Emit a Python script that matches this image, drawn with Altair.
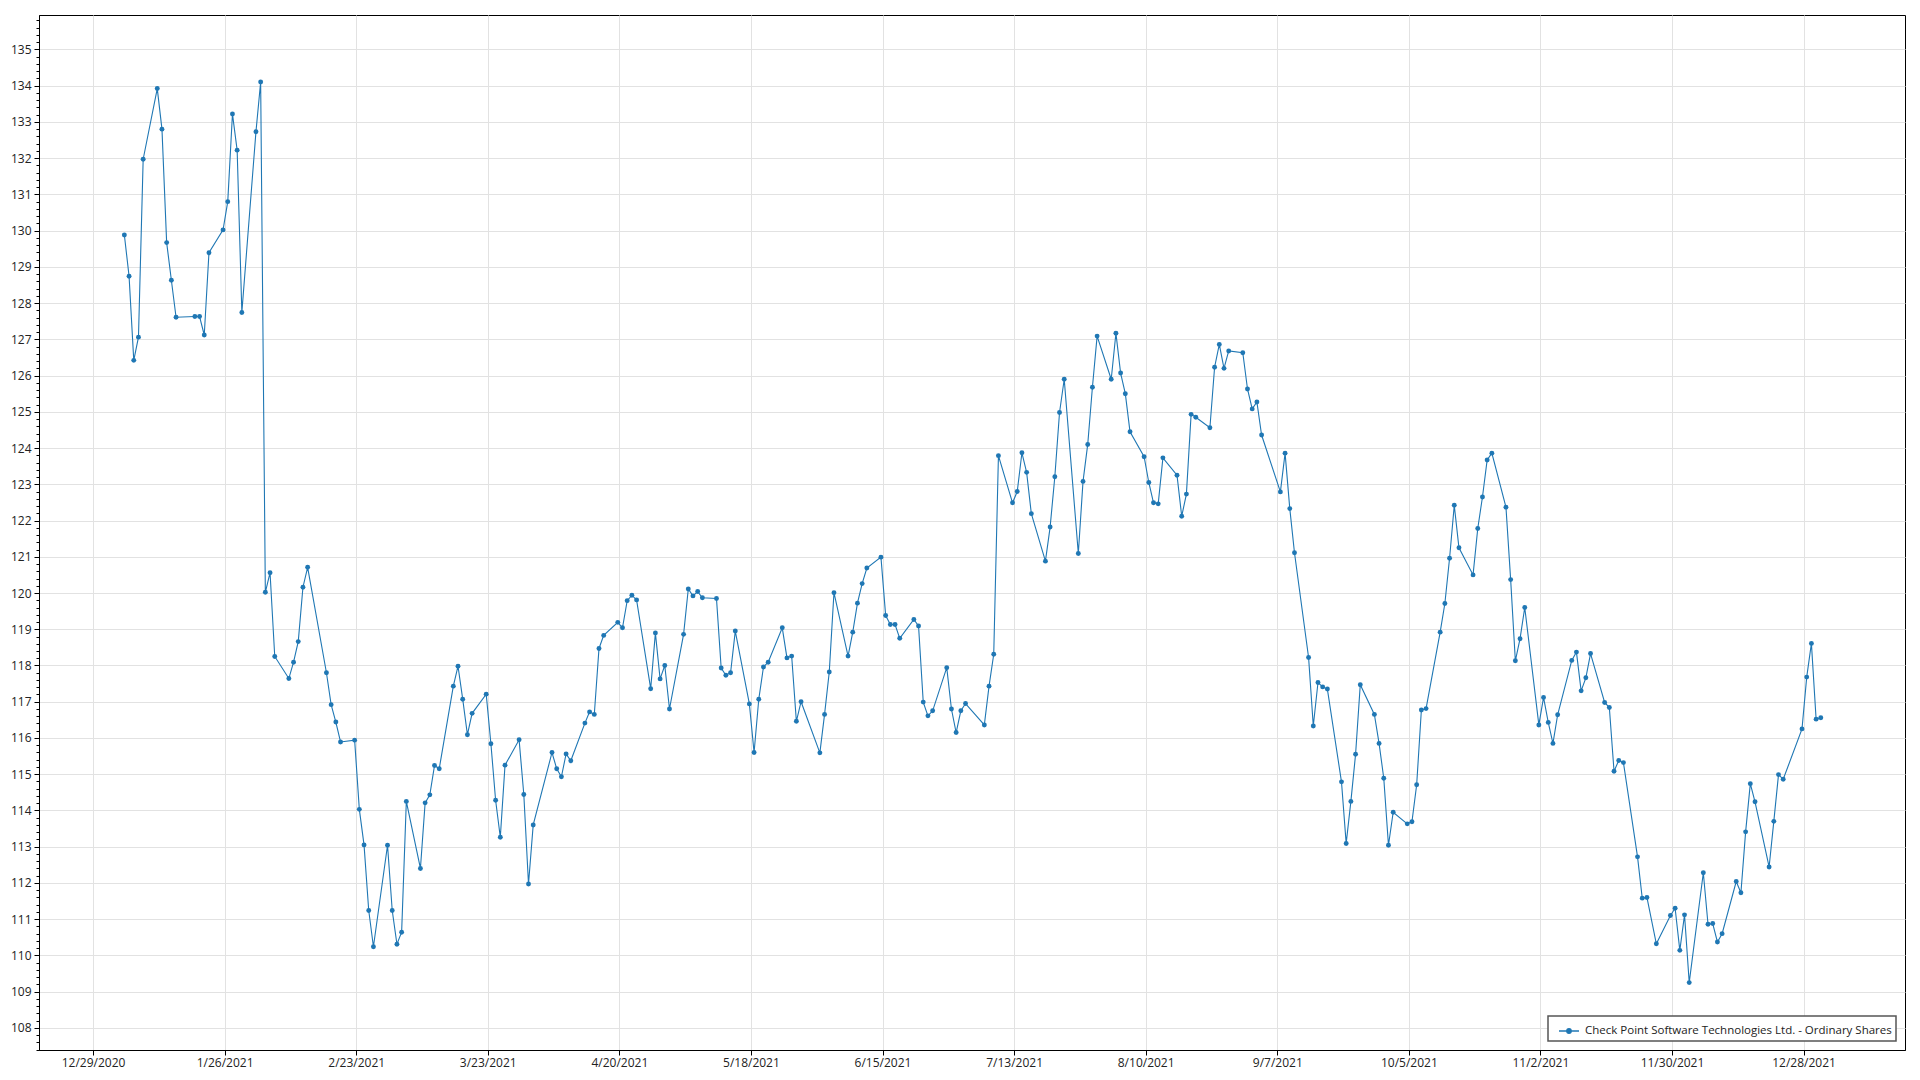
import altair as alt
import pandas as pd

SERIES = "Check Point Software Technologies Ltd. - Ordinary Shares"
YEAR = 2021
CLOSE_TIME = "16:00"
LINE_COLOR = "#1f77b4"

JAN_DAYS = [4, 5, 6, 7, 8, 11, 12, 13, 14, 15, 19, 20, 21, 22, 25, 26, 27, 28, 29]
JAN_VALS = [129.88, 128.74, 126.42, 127.06, 131.97, 133.92, 132.80, 129.67, 128.63, 127.61,
            127.63, 127.63, 127.12, 129.39, 130.02, 130.80, 133.22, 132.22, 127.74]
FEB_DAYS = [1, 2, 3, 4, 5, 8, 9, 10, 11, 12, 16, 17, 18, 19, 22, 23, 24, 25, 26]
FEB_VALS = [132.73, 134.10, 120.02, 120.56, 118.25, 117.64, 118.09, 118.66, 120.16, 120.71,
            117.80, 116.92, 116.44, 115.89, 115.94, 114.03, 113.05, 111.24, 110.24]
MAR_DAYS = [1, 2, 3, 4, 5, 8, 9, 10, 11, 12, 15, 16, 17, 18, 19, 22, 23, 24, 25, 26, 29, 30, 31]
MAR_VALS = [113.04, 111.24, 110.31, 110.64, 114.25, 112.40, 114.21, 114.43, 115.24, 115.15,
            117.43, 117.98, 117.07, 116.09, 116.68, 117.21, 115.84, 114.28, 113.26, 115.25,
            115.95, 114.44, 111.97]
APR_DAYS = [1, 5, 6, 7, 8, 9, 12, 13, 14, 15, 16, 19, 20, 21, 22, 23, 26, 27, 28, 29, 30]
APR_VALS = [113.60, 115.60, 115.15, 114.93, 115.56, 115.37, 116.41, 116.72, 116.65, 118.47,
            118.83, 119.19, 119.04, 119.79, 119.94, 119.81, 117.36, 118.90, 117.63, 118.00, 116.80]
MAY_DAYS = [3, 4, 5, 6, 7, 10, 11, 12, 13, 14, 17, 18, 19, 20, 21, 24, 25, 26, 27, 28]
MAY_VALS = [118.86, 120.11, 119.92, 120.04, 119.87, 119.85, 117.93, 117.73, 117.80, 118.95,
            116.94, 115.60, 117.07, 117.96, 118.09, 119.04, 118.21, 118.26, 116.46, 117.00]
JUN_DAYS = [1, 2, 3, 4, 7, 8, 9, 10, 11, 14, 15, 16, 17, 18, 21, 22, 23, 24, 25, 28, 29, 30]
JUN_VALS = [115.59, 116.65, 117.82, 120.01, 118.26, 118.92, 119.72, 120.26, 120.69, 120.99,
            119.38, 119.13, 119.13, 118.75, 119.27, 119.09, 116.99, 116.61, 116.75, 117.94,
            116.80, 116.15]
JUL_DAYS = [1, 2, 6, 7, 8, 9, 12, 13, 14, 15, 16, 19, 20, 21, 22, 23, 26, 27, 28, 29, 30]
JUL_VALS = [116.75, 116.95, 116.36, 117.43, 118.31, 123.79, 122.49, 122.80, 123.87, 123.33,
            122.19, 120.88, 121.82, 123.21, 124.98, 125.90, 121.09, 123.08, 124.10, 125.68, 127.09]
AUG_DAYS = [2, 3, 4, 5, 6, 9, 10, 11, 12, 13, 16, 17, 18, 19, 20, 23, 24, 25, 26, 27, 30, 31]
AUG_VALS = [125.90, 127.17, 126.07, 125.50, 124.45, 123.76, 123.05, 122.49, 122.46, 123.73,
            123.25, 122.12, 122.73, 124.93, 124.85, 124.56, 126.23, 126.86, 126.20, 126.68,
            126.63, 125.63]
SEP_DAYS = [1, 2, 3, 7, 8, 9, 10, 13, 14, 15, 16, 17, 20, 21, 22, 23, 24, 27, 28, 29, 30]
SEP_VALS = [125.08, 125.27, 124.36, 122.79, 123.86, 122.33, 121.11, 118.22, 116.33, 117.53,
            117.41, 117.35, 114.79, 113.09, 114.25, 115.55, 117.47, 116.65, 115.85, 114.89, 113.04]
OCT_DAYS = [1, 4, 5, 6, 7, 8, 11, 12, 13, 14, 15, 18, 19, 20, 21, 22, 25, 26, 27, 28, 29]
OCT_VALS = [113.95, 113.63, 113.69, 114.71, 116.77, 116.81, 118.92, 119.71, 120.96, 122.42,
            121.25, 120.50, 121.78, 122.65, 123.67, 123.86, 122.37, 120.37, 118.13, 118.74, 119.60]
NOV_DAYS = [1, 2, 3, 4, 5, 8, 9, 10, 11, 12, 15, 16, 17, 18, 19, 22, 23, 24, 26, 29, 30]
NOV_VALS = [116.36, 117.12, 116.43, 115.85, 116.64, 118.14, 118.37, 117.30, 117.66, 118.33,
            116.98, 116.84, 115.08, 115.38, 115.32, 112.72, 111.58, 111.60, 110.32, 111.10, 111.30]
DEC_DAYS = [1, 2, 3, 6, 7, 8, 9, 10, 13, 14, 15, 16, 17, 20, 21, 22, 23, 27, 28, 29, 30, 31]
DEC_VALS = [110.14, 111.12, 109.25, 112.28, 110.86, 110.88, 110.37, 110.60, 112.04, 111.73,
            113.41, 114.74, 114.24, 112.44, 113.70, 114.99, 114.86, 116.25, 117.68, 118.61,
            116.52, 116.56]

MONTHS = [(1, JAN_DAYS, JAN_VALS), (2, FEB_DAYS, FEB_VALS), (3, MAR_DAYS, MAR_VALS),
          (4, APR_DAYS, APR_VALS), (5, MAY_DAYS, MAY_VALS), (6, JUN_DAYS, JUN_VALS),
          (7, JUL_DAYS, JUL_VALS), (8, AUG_DAYS, AUG_VALS), (9, SEP_DAYS, SEP_VALS),
          (10, OCT_DAYS, OCT_VALS), (11, NOV_DAYS, NOV_VALS), (12, DEC_DAYS, DEC_VALS)]

X_TICKS = ["2020-12-29", "2021-01-26", "2021-02-23", "2021-03-23", "2021-04-20",
           "2021-05-18", "2021-06-15", "2021-07-13", "2021-08-10", "2021-09-07",
           "2021-10-05", "2021-11-02", "2021-11-30", "2021-12-28"]
X_DOMAIN = ["2020-12-17 12:00", "2022-01-18 14:00"]
Y_DOMAIN = [107.39, 135.95]
Y_MAJOR = list(range(108, 136))

rows = []
for m, days, vals in MONTHS:
    for d, v in zip(days, vals):
        rows.append({"date": f"{YEAR}-{m:02d}-{d:02d}T{CLOSE_TIME}:00Z", "price": v, "series": SERIES})
df = pd.DataFrame(rows)


def ms(s):
    return int(pd.Timestamp(s, tz="UTC").value // 10**6)


x_tick_vals = [ms(s) for s in X_TICKS]
y_tick_vals = []
for major in [107] + Y_MAJOR:
    for k in range(5):
        v = round(major + k * 0.2, 1)
        if Y_DOMAIN[0] <= v <= Y_DOMAIN[1]:
            y_tick_vals.append(v)

is_major = "abs(datum.value - round(datum.value)) < 0.001"
FONT = "Open Sans"

x_axis = alt.Axis(
    values=x_tick_vals,
    labelExpr="utcFormat(datum.value, '%-m/%-d/%Y')",
    title=None, grid=True, gridColor="#e2e2e2", gridWidth=1,
    tickSize=5, tickColor="#000", domainColor="#000", domainWidth=1,
    labelPadding=2, labelFont=FONT, labelFontSize=12, labelColor="#222",
    labelOverlap=False,
)
y_axis = alt.Axis(
    values=y_tick_vals,
    labelExpr=f"{is_major} ? format(round(datum.value), 'd') : ''",
    title=None, grid=True, gridColor="#e2e2e2", gridWidth=1,
    gridOpacity={"condition": {"test": is_major, "value": 1}, "value": 0},
    tickSize={"condition": {"test": is_major, "value": 5}, "value": 3},
    tickColor="#000", domainColor="#000", domainWidth=1,
    labelPadding=3, labelFont=FONT, labelFontSize=12, labelColor="#222",
    labelOverlap=False, labelFlush=False,
)

legend = alt.Legend(
    title=None, orient="none", legendX=1509, legendY=1001,
    symbolType="M-1,0 L1,0 M-0.22,0 A0.22,0.22 0 1,1 0.22,0 A0.22,0.22 0 1,1 -0.22,0 Z",
    symbolSize=400, symbolStrokeWidth=1.4, symbolFillColor=LINE_COLOR,
    symbolStrokeColor=LINE_COLOR, symbolOffset=6,
    labelFont=FONT, labelFontSize=11.5, labelColor="#222", labelOffset=5, labelLimit=0,
    strokeColor="#555", fillColor="#ffffff", padding=4, cornerRadius=0,
)

base = alt.Chart(df).encode(
    x=alt.X("date:T", scale=alt.Scale(type="utc", domain=[ms(X_DOMAIN[0]), ms(X_DOMAIN[1])], nice=False),
            axis=x_axis),
    y=alt.Y("price:Q", scale=alt.Scale(domain=Y_DOMAIN, nice=False, zero=False), axis=y_axis),
    color=alt.Color("series:N", scale=alt.Scale(range=[LINE_COLOR]), legend=legend),
)

line = base.mark_line(strokeWidth=1.1)
pts = base.mark_point(filled=True, size=24, opacity=1)

chart = (
    alt.layer(line, pts)
    .properties(width=1866, height=1035, autosize="none",
                padding={"left": 31, "top": 7, "right": 7, "bottom": 25},
                background="white")
    .configure_view(stroke="#000", strokeWidth=1)
    .configure_legend(strokeWidth=1.5)
)

chart.save("out.html", embed_options={"renderer": "svg", "actions": False})
